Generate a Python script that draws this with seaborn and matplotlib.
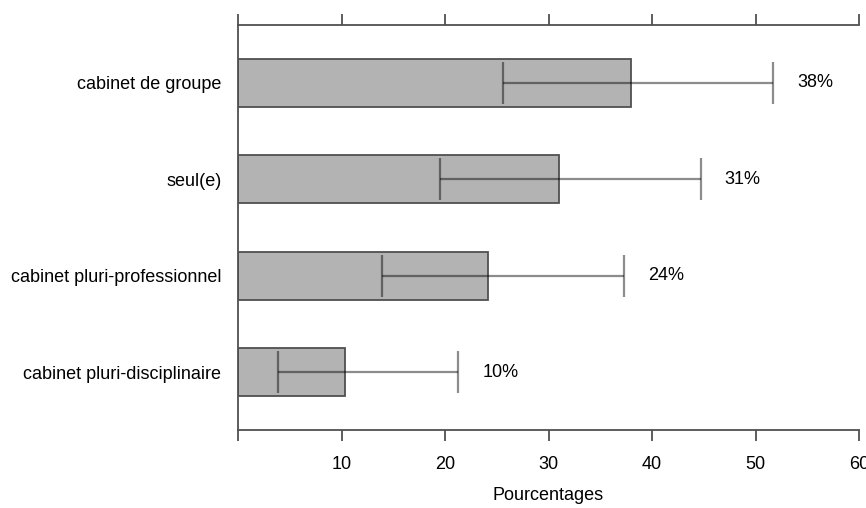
import matplotlib
matplotlib.use("Agg")
import matplotlib.pyplot as plt
import seaborn as sns
import pandas as pd
import numpy as np

categories = ["cabinet de groupe", "seul(e)", "cabinet pluri-professionnel", "cabinet pluri-disciplinaire"]
values = [38.0, 31.0, 24.2, 10.3]
ci_low = [25.6, 19.5, 13.9, 3.9]
ci_high = [51.7, 44.7, 37.3, 21.3]
labels = ["38%", "31%", "24%", "10%"]
xticks = [10, 20, 30, 40, 50, 60]

sns.set_style("white")
plt.rcParams['font.family'] = ['Liberation Sans', 'DejaVu Sans']
plt.rcParams['text.color'] = '#000000'
plt.rcParams['xtick.color'] = '#000000'
plt.rcParams['ytick.color'] = '#000000'
plt.rcParams['axes.labelcolor'] = '#000000'

df = pd.DataFrame({"cat": categories, "val": values})

fig = plt.figure(figsize=(8.66, 5.08), dpi=100)
ax = fig.add_axes([238/866, 1-430/508, (859-238)/866, (430-25)/508])

sns.barplot(data=df, x="val", y="cat", orient="h", color="#b3b3b3", saturation=1,
            edgecolor="#505050", linewidth=1.3, width=0.5, errorbar=None, ax=ax)

ypos = np.arange(len(categories))
vals = np.array(values)
xerr = np.array([vals - np.array(ci_low), np.array(ci_high) - vals])
ax.errorbar(vals, ypos, xerr=xerr, fmt="none", ecolor="black", alpha=0.45,
            elinewidth=1.6, capsize=15, capthick=1.6)

for y, hi, lab in zip(ypos, ci_high, labels):
    ax.text(hi + 2.3, y, lab, va="center", ha="left", fontsize=13, color="#000000")

ax.set_xlim(0, 60)
ax.set_ylim(3.6, -0.6)
ax.set_xticks([0] + xticks)
ax.set_xticklabels([""] + [str(t) for t in xticks])
ax.tick_params(axis="x", which="both", top=True, bottom=True, direction="out",
               length=8, width=1.3, color="#505050", pad=11, labelsize=13,
               labelcolor="#000000")
ax.tick_params(axis="y", length=0, pad=12, labelsize=13, labelcolor="#000000")
ax.set_xlabel("Pourcentages", fontsize=13, labelpad=10)
ax.set_ylabel("")

for s in ["top", "bottom", "left"]:
    ax.spines[s].set_visible(True)
    ax.spines[s].set_color("#505050")
    ax.spines[s].set_linewidth(1.3)
ax.spines["right"].set_visible(False)

fig.savefig("out.png", dpi=100)
